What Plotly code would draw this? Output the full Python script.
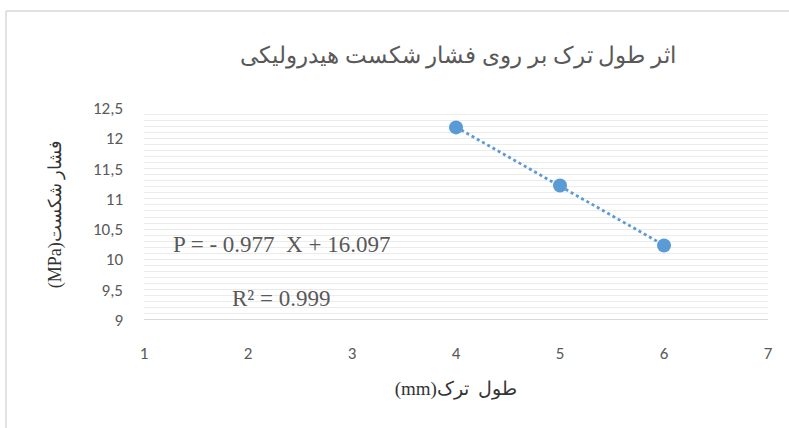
import numpy as np
import plotly.graph_objects as go

# Data
crack_length_mm = [4, 5, 6]
fracture_pressure_mpa = [12.18, 11.22, 10.23]

x_tick_vals = [1, 2, 3, 4, 5, 6, 7]
x_tick_text = ["1", "2", "3", "4", "5", "6", "7"]
y_tick_vals = [9, 9.5, 10, 10.5, 11, 11.5, 12, 12.5]
y_tick_text = ["9", "9,5", "10", "10,5", "11", "11,5", "12", "12,5"]

RLE, PDF = "\u202B", "\u202C"
title_text = RLE + "اثر طول ترک بر روی فشار شکست هیدرولیکی" + PDF
x_title = RLE + "طول\u00a0\u00a0ترک(mm)" + PDF
y_title = RLE + "فشار شکست(MPa)" + PDF
eq_text = "P = - 0.977\u00a0\u00a0X + 16.097"
r2_text = "R² = 0.999"

BLUE = "#5B9BD5"
GRAY_TXT = "#595959"
SERIF = "Times New Roman, Liberation Serif, DejaVu Serif, serif"
SANS = "Carlito, Calibri, Lato, Open Sans, sans-serif"

# Linear trendline from the data
coef = np.polyfit(crack_length_mm, fracture_pressure_mpa, 1)
trend_x = np.array([min(crack_length_mm), max(crack_length_mm)])
trend_y = np.polyval(coef, trend_x)

fig = go.Figure()
fig.add_trace(go.Scatter(
    x=trend_x, y=trend_y, mode="lines",
    line=dict(color=BLUE, width=2.8, dash="dot"),
    hoverinfo="skip", showlegend=False,
))
fig.add_trace(go.Scatter(
    x=crack_length_mm, y=fracture_pressure_mpa, mode="markers",
    marker=dict(color=BLUE, size=14),
    showlegend=False,
))

W, H = 789, 428
L, R, T, B = 144, 21, 108, 108
pw, ph = W - L - R, H - T - B

def px_to_paper_x(px):
    return (px - L) / pw

def px_to_paper_y(py):
    return (H - B - py) / ph

fig.update_layout(
    width=W, height=H,
    margin=dict(l=L, r=R, t=T, b=B),
    paper_bgcolor="white", plot_bgcolor="white",
    title=dict(
        text=title_text, x=px_to_paper_x(458), xref="paper", xanchor="center",
        y=1 - 55 / H, yref="container", yanchor="middle",
        font=dict(family=SERIF, size=23, color=GRAY_TXT),
    ),
    xaxis=dict(
        range=[1, 7], tickvals=x_tick_vals, ticktext=x_tick_text,
        showgrid=False, zeroline=False,
        showline=False, ticks="", ticklabelstandoff=21,
        tickfont=dict(family=SANS, size=17, color=GRAY_TXT),
        title=dict(text=x_title, font=dict(family=SERIF, size=19, color="#333333"),
                   standoff=18),
    ),
    yaxis=dict(
        range=[9, 12.5], tickvals=y_tick_vals, ticktext=y_tick_text,
        showgrid=True, gridcolor="#e9e9e9", gridwidth=1,
        minor=dict(dtick=0.1, tick0=9, showgrid=True, gridcolor="#ececec", gridwidth=1),
        zeroline=False, showline=False, ticks="", ticklabelstandoff=20,
        tickfont=dict(family=SANS, size=17, color=GRAY_TXT),
        title=dict(text=y_title, font=dict(family=SERIF, size=18, color="#333333"),
                   standoff=26),
    ),
    annotations=[
        dict(text=eq_text, x=px_to_paper_x(281), y=px_to_paper_y(244),
             xref="paper", yref="paper", xanchor="center", yanchor="middle",
             showarrow=False,
             font=dict(family=SERIF, size=23, color=GRAY_TXT)),
        dict(text=r2_text, x=px_to_paper_x(281), y=px_to_paper_y(298),
             xref="paper", yref="paper", xanchor="center", yanchor="middle",
             showarrow=False,
             font=dict(family=SERIF, size=23, color=GRAY_TXT)),
    ],
    shapes=[
        # x-axis baseline
        dict(type="line", xref="paper", yref="y", x0=0, x1=1, y0=9, y1=9,
             line=dict(color="#d9d9d9", width=2), layer="above"),
        # chart border (left and top)
        dict(type="line", xref="paper", yref="paper",
             x0=px_to_paper_x(6), x1=px_to_paper_x(6),
             y0=px_to_paper_y(11), y1=px_to_paper_y(440),
             line=dict(color="#d9d9d9", width=1.5)),
        dict(type="line", xref="paper", yref="paper",
             x0=px_to_paper_x(6), x1=px_to_paper_x(800),
             y0=px_to_paper_y(11), y1=px_to_paper_y(11),
             line=dict(color="#d9d9d9", width=1.5)),
    ],
)

fig.write_html(
    "out.html",
    config={"displayModeBar": False},
    post_script="document.body.style.margin='0';document.body.style.padding='0';",
)
